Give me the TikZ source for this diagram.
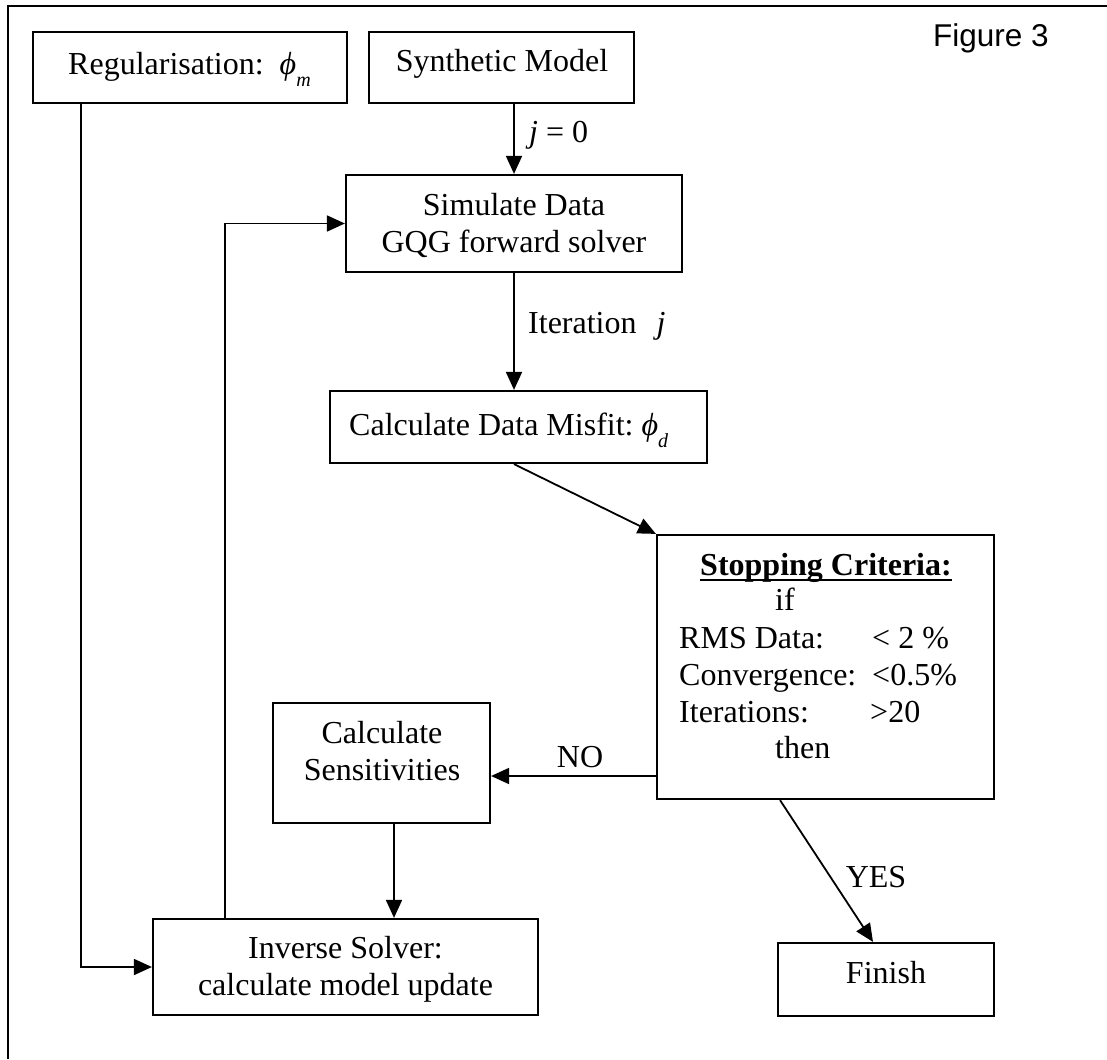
\documentclass[tikz,border=0pt]{standalone}
\usepackage{fontspec}
\setmainfont{Liberation Serif}
\newfontfamily\figfont{Liberation Sans}
\usetikzlibrary{arrows.meta}

\tikzset{
  box/.style={draw, line width=2.2pt, rectangle, inner sep=0pt},
  txt/.style={inner sep=0pt, font=\fontsize{32}{37}\selectfont},
  conn/.style={line width=1.8pt},
  arr/.style={conn, -{Triangle[length=18pt,width=16pt]}},
}
\newcommand{\subvar}[1]{\raisebox{-12pt}{\fontsize{20}{20}\selectfont\itshape #1}}

\begin{document}
\begin{tikzpicture}[x=1pt, y=-1pt]
\useasboundingbox (0,0) rectangle (1107,1059);

% frame edges
\draw[line width=2pt] (8,1059) -- (8,6) -- (1107,6);
\node[inner sep=0pt, anchor=base west, font=\figfont\fontsize{31.5}{36}\selectfont] (figlabel) at (933,47) {Figure 3};

% boxes
\node[box, minimum width=314pt, minimum height=71pt] (reg)  at (190,67.5) {};
\node[box, minimum width=265pt, minimum height=71pt] (syn)  at (501.5,67.5) {};
\node[box, minimum width=336pt, minimum height=97pt] (sim)  at (514,223.5) {};
\node[box, minimum width=377pt, minimum height=72pt] (mis)  at (518.5,427) {};
\node[box, minimum width=337pt, minimum height=264pt] (stop) at (825.5,667) {};
\node[box, minimum width=217pt, minimum height=120pt] (sens) at (381.5,763) {};
\node[box, minimum width=385pt, minimum height=96pt] (inv)  at (345.5,967) {};
\node[box, minimum width=216pt, minimum height=73pt] (fin)  at (886,979.5) {};

% box texts
\node[txt, anchor=base west] (regtxt) at (68,75) {Regularisation:\hspace{16pt}{\itshape ϕ}\subvar{m}};
\node[txt, anchor=base] (syntxt) at (502,72) {Synthetic Model};
\node[txt, anchor=base] (simtxta) at (514,215) {Simulate Data};
\node[txt, anchor=base] (simtxtb) at (514,252) {GQG forward solver};
\node[txt, anchor=base west] (mistxt) at (349,435) {Calculate Data Misfit:\hspace{8pt}{\itshape ϕ}\subvar{d}};

\node[txt, anchor=base, font=\fontsize{32}{37}\selectfont\bfseries] (stoptitle) at (826,575) {Stopping Criteria:};
\draw[line width=2pt] ([yshift=-5pt]stoptitle.base west) -- ([yshift=-5pt]stoptitle.base east);
\node[txt, anchor=base west] (stopif) at (775,610) {if};
\node[txt, anchor=base west] (rmsname) at (679,648) {RMS Data:};
\node[txt, anchor=base west] (rmsval) at (872,648) {< 2 \%};
\node[txt, anchor=base west] (convname) at (679,685) {Convergence:};
\node[txt, anchor=base west] (convval) at (872,685) {<0.5\%};
\node[txt, anchor=base west] (itname) at (679,722) {Iterations:};
\node[txt, anchor=base west] (itval) at (870,722) {>20};
\node[txt, anchor=base west] (stopthen) at (775,758) {then};

\node[txt, anchor=base] (senstxta) at (382,743) {Calculate};
\node[txt, anchor=base] (senstxtb) at (382,780) {Sensitivities};
\node[txt, anchor=base] (invtxta) at (345.5,958) {Inverse Solver:};
\node[txt, anchor=base] (invtxtb) at (345.5,995) {calculate model update};
\node[txt, anchor=base] (fintxt) at (886,983) {Finish};

% connector labels
\node[txt, anchor=base west] (jzero) at (529,143) {{\itshape j} = 0};
\node[txt, anchor=base west] (iterj) at (528,333) {Iteration\hspace{20pt}{\itshape j}};
\node[txt, anchor=base] (nolab) at (580,767) {NO};
\node[txt, anchor=base] (yeslab) at (876,887) {YES};

% connectors
\coordinate (nolevel) at (0,776);
\draw[arr] (sim.north |- syn.south) -- (sim.north);
\draw[arr] (sim.south) -- (sim.south |- mis.north);
\draw[arr] (sim.south |- mis.south) -- (stop.north west);
\draw[arr] (stop.west |- nolevel) -- (sens.east |- nolevel);
\draw[arr] ([xshift=-45.5pt]stop.south) -- ([xshift=-13pt]fin.north);
\draw[arr] ([xshift=12.5pt]sens.south) -- ([xshift=12.5pt]sens.south |- inv.north);
\draw[arr] ([xshift=49pt]reg.south west) |- (inv.west);
\draw[arr] ([xshift=73pt]inv.north west) |- (sim.west);
\end{tikzpicture}
\end{document}
